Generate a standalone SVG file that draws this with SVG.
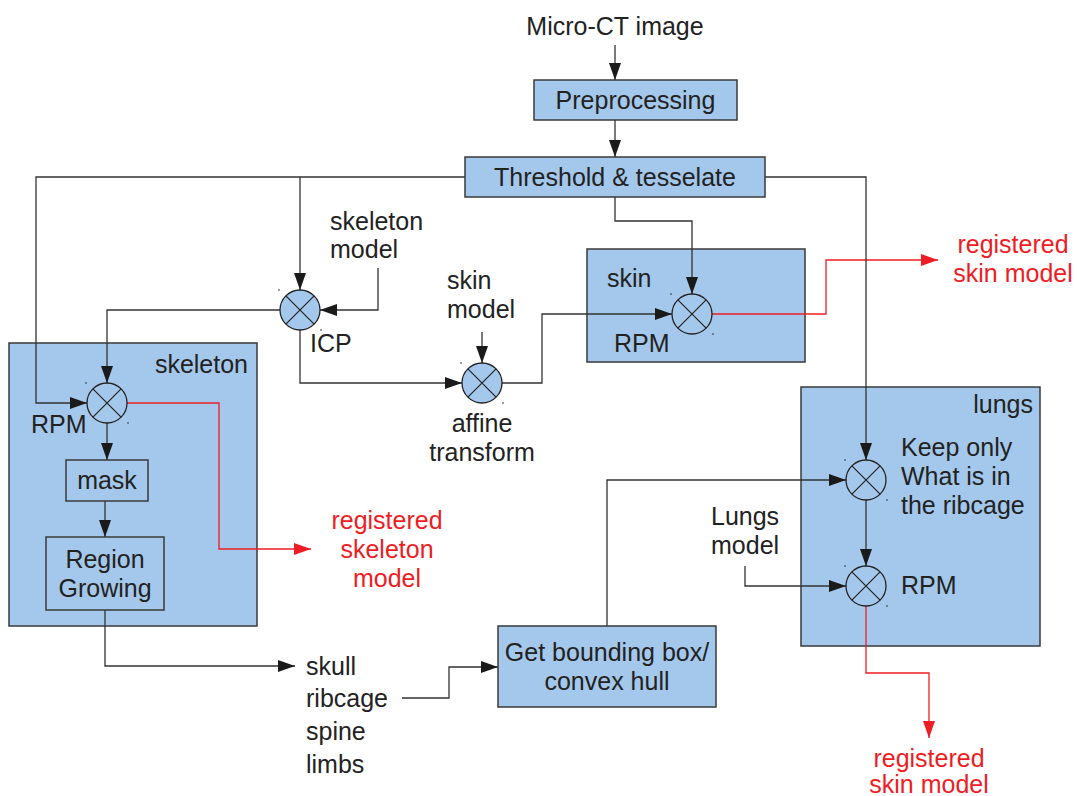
<svg xmlns="http://www.w3.org/2000/svg" width="1077" height="796" viewBox="0 0 1077 796">
<style>
text{font-family:"Liberation Sans",Arial,sans-serif;font-size:25px;fill:#222}
.red{fill:#ee1c24}
.box{fill:#a4c8eb;stroke:#3a3a3a;stroke-width:1.5}
.ln{fill:none;stroke:#333;stroke-width:1.3}
.rl{fill:none;stroke:#ee1c24;stroke-width:1.3}
.op{fill:#a4c8eb;stroke:#222;stroke-width:1.3}
.x{stroke:#222;stroke-width:1.2}
.dot{fill:#222}
.m{text-anchor:middle}
.e{text-anchor:end}
</style>
<defs>
<marker id="a" markerUnits="userSpaceOnUse" markerWidth="17" markerHeight="12" refX="17" refY="6" orient="auto"><path d="M0,0L17,6L0,12z" fill="#1a1a1a"/></marker>
<marker id="r" markerUnits="userSpaceOnUse" markerWidth="17" markerHeight="12" refX="17" refY="6" orient="auto"><path d="M0,0L17,6L0,12z" fill="#ee1c24"/></marker>
<g id="opsym"><circle class="op" r="20"/><path class="x" d="M-14.1,-14.1L14.1,14.1M14.1,-14.1L-14.1,14.1"/><circle class="dot" cx="-21" cy="-20" r="0.8"/><circle class="dot" cx="21" cy="20" r="0.8"/></g>
</defs>
<rect width="1077" height="796" fill="#fff"/>

<g id="skeleton-group"><rect class="box" x="9" y="343" width="248" height="283"/><text class="e" x="248" y="373">skeleton</text></g>
<g id="skin-group"><rect class="box" x="587" y="249" width="218" height="113"/><text x="607" y="287">skin</text><text x="614" y="352">RPM</text></g>
<g id="lungs-group"><rect class="box" x="801" y="387" width="239" height="259"/><text class="e" x="1033" y="413">lungs</text></g>

<g id="connectors">
<path class="ln" d="M615,45V80" marker-end="url(#a)"/>
<path class="ln" d="M615,120V157" marker-end="url(#a)"/>
<path class="ln" d="M465,177H36V403H87" marker-end="url(#a)"/>
<path class="ln" d="M300,177V290" marker-end="url(#a)"/>
<path class="ln" d="M378,268V310H320" marker-end="url(#a)"/>
<path class="ln" d="M280,310H107V383" marker-end="url(#a)"/>
<path class="ln" d="M300,330V383H462" marker-end="url(#a)"/>
<path class="ln" d="M482,332V363" marker-end="url(#a)"/>
<path class="ln" d="M502,383H542V314H672" marker-end="url(#a)"/>
<path class="ln" d="M615,197V221H692V294" marker-end="url(#a)"/>
<path class="rl" d="M712,314H826V260H938" marker-end="url(#r)"/>
<path class="ln" d="M765,177H866V460" marker-end="url(#a)"/>
<path class="ln" d="M866,500V566" marker-end="url(#a)"/>
<path class="ln" d="M745,566V586H846" marker-end="url(#a)"/>
<path class="ln" d="M607,626V480H846" marker-end="url(#a)"/>
<path class="rl" d="M866,606V673H929V738" marker-end="url(#r)"/>
<path class="ln" d="M107,423V460" marker-end="url(#a)"/>
<path class="ln" d="M105,501V537" marker-end="url(#a)"/>
<path class="rl" d="M127,403H219V549H311" marker-end="url(#r)"/>
<path class="ln" d="M105,610V666H295" marker-end="url(#a)"/>
<path class="ln" d="M402,698H449V667H498" marker-end="url(#a)"/>
</g>

<g id="micro-ct"><text class="m" x="615" y="35">Micro-CT image</text></g>
<g id="preprocessing"><rect class="box" x="534" y="80" width="203" height="40"/><text class="m" x="635.5" y="109">Preprocessing</text></g>
<g id="threshold"><rect class="box" x="465" y="157" width="300" height="40"/><text class="m" x="615" y="186">Threshold &amp; tesselate</text></g>
<g id="skeleton-model"><text x="330" y="230">skeleton</text><text x="330" y="258">model</text></g>
<g id="icp"><use href="#opsym" x="300" y="310"/><text x="310" y="352">ICP</text></g>
<g id="rpm-skeleton"><use href="#opsym" x="107" y="403"/><text x="31" y="433">RPM</text></g>
<g id="skin-model"><text x="447" y="289">skin</text><text x="447" y="318">model</text></g>
<g id="affine"><use href="#opsym" x="482" y="383"/><text class="m" x="482" y="432">affine</text><text class="m" x="482" y="461">transform</text></g>
<g id="rpm-skin"><use href="#opsym" x="692" y="314"/></g>
<g id="registered-skin-top"><text class="m red" x="1013" y="253">registered</text><text class="m red" x="1013" y="282">skin model</text></g>
<g id="mask"><rect class="box" x="66" y="460" width="82" height="41"/><text class="m" x="107" y="489">mask</text></g>
<g id="region-growing"><rect class="box" x="46" y="537" width="118" height="73"/><text class="m" x="105" y="568">Region</text><text class="m" x="105" y="597">Growing</text></g>
<g id="registered-skeleton"><text class="m red" x="387" y="529">registered</text><text class="m red" x="387" y="558">skeleton</text><text class="m red" x="387" y="587">model</text></g>
<g id="parts"><text x="306" y="675">skull</text><text x="306" y="707">ribcage</text><text x="306" y="740">spine</text><text x="306" y="773">limbs</text></g>
<g id="bounding-box"><rect class="box" x="498" y="626" width="218" height="81"/><text class="m" x="607" y="661">Get bounding box/</text><text class="m" x="607" y="690">convex hull</text></g>
<g id="keep-only"><use href="#opsym" x="866" y="480"/><text x="901" y="456">Keep only</text><text x="901" y="485">What is in</text><text x="901" y="514">the ribcage</text></g>
<g id="lungs-model"><text x="711" y="525">Lungs</text><text x="711" y="554">model</text></g>
<g id="rpm-lungs"><use href="#opsym" x="866" y="586"/><text x="901" y="594">RPM</text></g>
<g id="registered-skin-bottom"><text class="m red" x="929" y="767">registered</text><text class="m red" x="929" y="793">skin model</text></g>
</svg>
